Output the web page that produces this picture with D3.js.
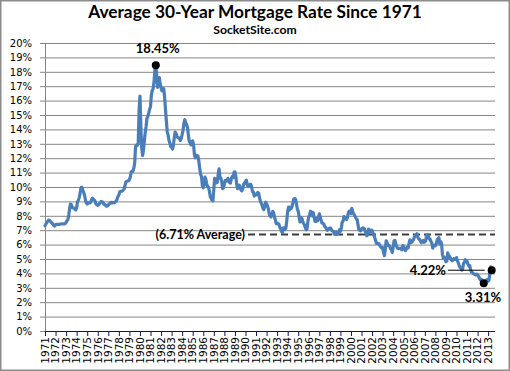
<!DOCTYPE html>
<html>
<head>
<meta charset="utf-8">
<script src="https://cdn.jsdelivr.net/npm/d3@7"></script>
<style>
body { margin: 0; background: #fff; }
svg { display: block; }
</style>
</head>
<body>
<div id="chart"></div>
<script>
// monthly 30-year rates, first value is April 1971
var firstYear = 1971;
var lastYear = 2013;
var rates = [
  7.31, 7.43, 7.53, 7.60, 7.70, 7.69, 7.63, 7.55, 7.48,
  7.44, 7.32, 7.29, 7.37, 7.41, 7.40, 7.41, 7.40, 7.42, 7.43, 7.44, 7.44,
  7.44, 7.44, 7.46, 7.54, 7.65, 7.73, 8.05, 8.50, 8.82, 8.77, 8.58, 8.54,
  8.54, 8.46, 8.41, 8.58, 8.97, 9.09, 9.28, 9.59, 9.96, 9.98, 9.79, 9.62,
  9.43, 9.10, 8.89, 8.82, 8.91, 8.89, 8.89, 8.94, 9.13, 9.22, 9.15, 9.10,
  9.02, 8.81, 8.76, 8.73, 8.76, 8.85, 8.93, 9.00, 8.98, 8.92, 8.81, 8.79,
  8.72, 8.67, 8.69, 8.75, 8.83, 8.86, 8.94, 8.94, 8.90, 8.92, 8.92, 8.96,
  9.02, 9.15, 9.35, 9.44, 9.66, 9.70, 9.70, 9.73, 9.79, 9.86, 10.11, 10.35,
  10.39, 10.41, 10.43, 10.50, 10.69, 11.04, 11.09, 11.09, 11.30, 11.64, 12.83, 12.90,
  12.88, 13.04, 15.28, 16.32, 14.26, 12.71, 12.19, 12.56, 13.20, 13.79, 14.21, 14.79,
  14.90, 15.13, 15.40, 15.58, 16.40, 16.70, 16.83, 17.29, 18.16, 18.45, 17.83, 16.92,
  17.40, 17.60, 17.16, 16.89, 16.68, 16.70, 16.82, 16.27, 15.43, 14.61, 13.83, 13.62,
  13.25, 13.04, 12.80, 12.78, 12.63, 12.87, 13.42, 13.81, 13.73, 13.54, 13.44, 13.42,
  13.37, 13.23, 13.39, 13.65, 13.94, 14.42, 14.67, 14.47, 14.35, 14.13, 13.64, 13.18,
  13.08, 12.92, 13.17, 13.20, 12.91, 12.22, 12.03, 12.19, 12.19, 12.14, 11.78, 11.26,
  10.88, 10.71, 10.08, 9.94, 10.14, 10.68, 10.51, 10.20, 10.01, 9.98, 9.70, 9.32,
  9.20, 9.08, 9.04, 9.83, 10.60, 10.54, 10.28, 10.33, 10.89, 11.26, 10.65, 10.64,
  10.38, 9.89, 9.93, 10.20, 10.46, 10.46, 10.43, 10.60, 10.48, 10.30, 10.27, 10.61,
  10.73, 10.65, 11.03, 11.05, 10.77, 10.20, 9.88, 9.99, 10.13, 9.95, 9.77, 9.74,
  9.90, 10.20, 10.27, 10.37, 10.48, 10.16, 10.04, 10.10, 10.18, 10.18, 10.01, 9.67,
  9.64, 9.37, 9.50, 9.49, 9.47, 9.62, 9.58, 9.24, 9.01, 8.86, 8.71, 8.50,
  8.43, 8.76, 8.94, 8.85, 8.67, 8.51, 8.13, 7.98, 7.92, 8.09, 8.31, 8.22,
  7.92, 7.71, 7.46, 7.46, 7.47, 7.42, 7.21, 7.11, 6.91, 6.83, 7.16, 7.17,
  7.06, 7.15, 7.68, 8.32, 8.60, 8.40, 8.61, 8.51, 8.64, 8.93, 9.17, 9.20,
  9.15, 8.83, 8.46, 8.32, 7.96, 7.57, 7.61, 7.86, 7.64, 7.48, 7.38, 7.20,
  7.03, 7.08, 7.62, 7.93, 8.07, 8.32, 8.25, 8.00, 8.23, 7.92, 7.62, 7.60,
  7.82, 7.65, 7.90, 8.14, 7.94, 7.69, 7.50, 7.48, 7.43, 7.29, 7.21, 7.10,
  6.99, 7.04, 7.13, 7.14, 7.14, 7.00, 6.95, 6.92, 6.72, 6.71, 6.87, 6.72,
  6.79, 6.81, 7.04, 6.92, 7.15, 7.55, 7.63, 7.94, 7.82, 7.85, 7.74, 7.91,
  8.21, 8.33, 8.24, 8.15, 8.52, 8.29, 8.15, 8.03, 7.91, 7.80, 7.75, 7.38,
  7.03, 7.05, 6.95, 7.08, 7.15, 7.16, 7.13, 6.95, 6.82, 6.62, 6.66, 7.07,
  7.00, 6.89, 7.01, 6.99, 6.81, 6.65, 6.49, 6.29, 6.09, 6.11, 6.07, 6.05,
  5.92, 5.84, 5.75, 5.81, 5.48, 5.23, 5.63, 6.26, 6.15, 5.95, 5.93, 5.88,
  5.71, 5.64, 5.45, 5.83, 6.27, 6.29, 6.06, 5.87, 5.75, 5.72, 5.73, 5.75,
  5.71, 5.63, 5.93, 5.86, 5.72, 5.58, 5.70, 5.82, 5.77, 6.07, 6.33, 6.27,
  6.15, 6.25, 6.32, 6.51, 6.60, 6.68, 6.76, 6.52, 6.40, 6.36, 6.24, 6.14,
  6.22, 6.29, 6.16, 6.18, 6.26, 6.66, 6.70, 6.57, 6.38, 6.38, 6.21, 6.10,
  5.76, 5.92, 5.97, 5.92, 6.04, 6.32, 6.43, 6.48, 6.04, 6.20, 6.09, 5.33,
  5.06, 5.13, 5.00, 4.81, 4.86, 5.42, 5.22, 5.19, 5.06, 4.95, 4.88, 4.93,
  5.03, 4.99, 4.97, 5.10, 4.89, 4.74, 4.56, 4.43, 4.35, 4.23, 4.30, 4.71,
  4.76, 4.95, 4.84, 4.84, 4.64, 4.51, 4.55, 4.27, 4.11, 4.07, 3.99, 3.96,
  3.92, 3.89, 3.95, 3.91, 3.80, 3.68, 3.55, 3.60, 3.50, 3.38, 3.31, 3.35,
  3.41, 3.53, 3.57, 3.45, 3.54, 4.07, 4.46, 4.22
];
var yTicks = d3.range(0, 21);
var yearLabels = d3.range(firstYear, lastYear + 1);
var avgRate = 6.71;

var w = 510;
var h = 371;
var plotL = 45, plotR = 495, plotT = 43, plotB = 331;

var svg = d3.select("#chart")
            .append("svg")
            .attr("width", w)
            .attr("height", h);

svg.append("rect")
    .attr("x", 0.75).attr("y", 0.75)
    .attr("width", w - 1.5).attr("height", h - 1.5)
    .attr("fill", "#fff")
    .attr("stroke", "#8c8c8c")
    .attr("stroke-width", 1.5);

// x is month index from April 1971, one tick every 12 months
var x = d3.scaleLinear().domain([0, 511.8]).range([plotL, plotR]);
var y = d3.scaleLinear().domain([0, 20]).range([plotB, plotT]);

// gridlines
svg.append("g")
    .attr("transform", "translate(" + plotL + ",0)")
    .call(d3.axisLeft(y).tickValues(yTicks.slice(1)).tickSize(-(plotR - plotL)).tickFormat(""))
    .call(function(g) {
        g.select(".domain").remove();
        g.selectAll("line").attr("stroke", "#868686");
    });

// y axis
svg.append("g")
    .attr("transform", "translate(" + plotL + ",0)")
    .call(d3.axisLeft(y).tickValues(yTicks).tickSize(5).tickPadding(8)
            .tickFormat(function(d) { return d + "%"; }))
    .call(function(g) {
        g.select(".domain").attr("stroke", "#868686").attr("d", "M0.5," + plotT + "V" + plotB);
        g.selectAll("line").attr("stroke", "#868686");
        g.selectAll("text")
            .attr("font-family", "DejaVu Sans")
            .attr("font-size", 10)
            .attr("fill", "#000");
    });

// x axis
svg.append("g")
    .attr("transform", "translate(0," + plotB + ")")
    .call(d3.axisBottom(x).tickValues(yearLabels.map(function(d) { return (d - firstYear) * 12; }))
            .tickSize(5).tickFormat(""))
    .call(function(g) {
        g.select(".domain").attr("stroke", "#10106e").attr("d", "M" + plotL + ",0.5H" + plotR);
        g.selectAll("line").attr("stroke", "#10106e");
    });

svg.selectAll("text.year")
    .data(yearLabels)
    .enter()
    .append("text")
    .attr("class", "year")
    .attr("transform", function(d) {
        return "translate(" + x((d - firstYear) * 12) + ",337) rotate(-90)";
    })
    .attr("text-anchor", "end")
    .attr("dy", "0.36em")
    .attr("font-family", "DejaVu Sans")
    .attr("font-size", 10.5)
    .attr("fill", "#000")
    .text(function(d) { return d; });

// average line
svg.append("text")
    .attr("x", 245)
    .attr("y", y(avgRate))
    .attr("dy", "0.35em")
    .attr("text-anchor", "end")
    .attr("font-family", "Lato")
    .attr("font-weight", "bold")
    .attr("font-size", 12.5)
    .text("(6.71% Average)");

svg.append("line")
    .attr("x1", 248).attr("x2", plotR)
    .attr("y1", y(avgRate)).attr("y2", y(avgRate))
    .attr("stroke", "#3c3c3c")
    .attr("stroke-width", 2)
    .attr("stroke-dasharray", "7,4");

// rate line
var line = d3.line()
    .x(function(d, i) { return x(i); })
    .y(function(d) { return y(d); });

svg.append("path")
    .datum(rates)
    .attr("d", line)
    .attr("fill", "none")
    .attr("stroke", "#4a7ebb")
    .attr("stroke-width", 3.2)
    .attr("stroke-linejoin", "round")
    .attr("stroke-linecap", "round");

// markers
var iPeak = d3.maxIndex(rates);
var iLow = d3.minIndex(rates);
var iLast = rates.length - 1;

svg.append("line")
    .attr("x1", 448).attr("x2", x(iLast) - 7)
    .attr("y1", y(rates[iLast])).attr("y2", y(rates[iLast]))
    .attr("stroke", "#000")
    .attr("stroke-width", 1);

svg.selectAll("circle")
    .data([iPeak, iLow, iLast])
    .enter()
    .append("circle")
    .attr("cx", function(d) { return x(d); })
    .attr("cy", function(d) { return y(rates[d]); })
    .attr("r", 4)
    .attr("fill", "#000");

function label(txt, xx, yy, anchor) {
    return svg.append("text")
        .attr("x", xx).attr("y", yy)
        .attr("text-anchor", anchor)
        .attr("font-family", "Lato")
        .attr("font-weight", "bold")
        .attr("font-size", 13)
        .attr("fill", "#000")
        .text(txt);
}
label(rates[iPeak].toFixed(2) + "%", x(iPeak) + 2, y(rates[iPeak]) - 12, "middle");
label(rates[iLow].toFixed(2) + "%", 483, y(rates[iLow]) + 19, "middle");
label(rates[iLast].toFixed(2) + "%", 446, y(rates[iLast]) + 4.5, "end");

// titles
svg.append("text")
    .attr("x", 255).attr("y", 18)
    .attr("text-anchor", "middle")
    .attr("font-family", "Lato")
    .attr("font-weight", "bold")
    .attr("font-size", 17.3)
    .text("Average 30-Year Mortgage Rate Since 1971");

svg.append("text")
    .attr("x", 255).attr("y", 34)
    .attr("text-anchor", "middle")
    .attr("font-family", "Lato")
    .attr("font-weight", "bold")
    .attr("font-size", 12.2)
    .text("SocketSite.com");
</script>
</body>
</html>
